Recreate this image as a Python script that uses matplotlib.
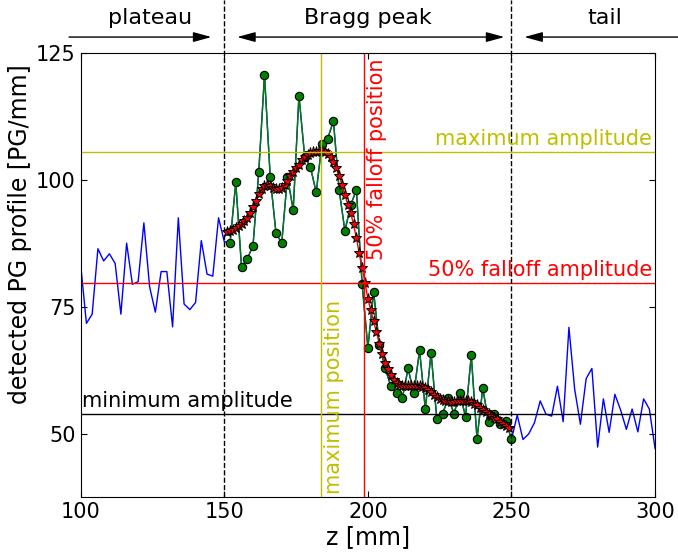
import numpy as np
import matplotlib
matplotlib.use('Agg')
import matplotlib.pyplot as plt

# measured PG profile, 2 mm bins
z = np.arange(100, 301, 2)
plateau = [83.3, 71.8, 73.6, 86.5, 84.1, 85.5, 83.6, 73.6, 87.6, 79.5,
           80.0, 91.6, 79.0, 74.0, 82.0, 82.0, 71.1, 92.6, 75.6, 74.5,
           75.9, 88.1, 81.5, 81.1, 92.6, 87.9]                      # 100..150
bragg = [87.6, 99.6, 82.9, 84.5, 87.1, 101.6, 120.8, 100.6, 89.6, 87.6,
         100.7, 94.1, 116.7, 104.6, 102.6, 97.6, 107.2, 108.2, 111.7, 98.1,
         90.0, 95.1, 98.1, 79.5, 67.0, 78.0, 67.5, 63.0, 59.4, 58.0,
         57.0, 62.9, 58.0, 66.5, 54.9, 66.0, 53.0, 54.0, 57.0, 54.0,
         58.0, 53.4, 65.5, 49.0, 59.0, 52.4, 54.0, 51.9, 52.6, 48.9]   # 152..250
tail = [53.7, 48.9, 50.0, 52.2, 56.5, 53.9, 53.5, 59.4, 52.4, 71.0,
        58.8, 51.9, 60.9, 62.9, 47.4, 56.9, 50.3, 57.8, 54.7, 50.9,
        54.9, 50.4, 56.9, 54.9, 47.1]                                # 252..300
profile = np.array(plateau + bragg + tail)

# smoothed profile, 1 mm steps
z_fit = np.arange(151, 250)
fit = [89.8, 90.0, 90.2, 90.5, 90.9, 91.3, 91.9, 92.5, 93.5, 94.7,
       96.0, 97.3, 98.3, 98.9, 99.1, 98.9, 98.5, 98.3, 98.2, 98.5,
       99.1, 99.9, 100.8, 101.7, 102.4, 103.1, 103.9, 104.6, 105.0, 105.3,
       105.5, 105.6, 105.7, 105.8, 105.5, 105.1, 104.5, 103.7, 102.5, 100.9,
       99.0, 97.1, 95.2, 93.6, 91.3, 88.6, 85.6, 82.8, 79.8, 76.6,
       74.4, 72.2, 70.0, 67.8, 65.8, 64.0, 62.7, 61.6, 60.7, 60.1,
       59.7, 59.5, 59.5, 59.5, 59.5, 59.5, 59.5, 59.5, 59.3, 59.0,
       58.6, 58.2, 57.7, 57.2, 56.9, 56.7, 56.5, 56.4, 56.3, 56.3,
       56.4, 56.5, 56.5, 56.5, 56.4, 56.2, 55.9, 55.6, 55.2, 54.8,
       54.4, 54.0, 53.6, 53.2, 52.9, 52.4, 52.0, 51.6, 51.2]

max_amp = 105.6
min_amp = 53.9
half_amp = (max_amp + min_amp) / 2
max_pos = 183.8
half_pos = 198.8

plt.rcParams['font.family'] = ['DejaVu Sans']
plt.rcParams['font.size'] = 15

fig = plt.figure(figsize=(6.78, 5.57), dpi=100)
ax = fig.add_axes([0.119, 0.1072, 0.8472, 0.7968])

ax.plot(z, profile, 'b-', lw=1)
sel = (z >= 152) & (z <= 250)
ax.plot(z[sel], profile[sel], 'g-', lw=1, marker='o', ms=6,
        mfc='g', mec='k', mew=0.8)
ax.plot(z_fit, fit, 'r-', lw=1, marker='*', ms=8, mfc='r', mec='k', mew=0.7)

ax.axhline(max_amp, color='y', lw=1)
ax.axhline(half_amp, color='r', lw=1)
ax.axhline(min_amp, color='k', lw=1)
ax.axvline(max_pos, color='y', lw=1)
ax.axvline(half_pos, color='r', lw=1)
for zz in (150, 250):
    ax.axvline(zz, ymin=0, ymax=1.12, color='k', ls='--', lw=1, clip_on=False)

ax.text(299, max_amp + 0.6, 'maximum amplitude', color='y', ha='right', va='bottom')
ax.text(299, half_amp + 0.6, '50% falloff amplitude', color='r', ha='right', va='bottom')
ax.text(100.5, min_amp + 0.6, 'minimum amplitude', color='k', ha='left', va='bottom')
ax.text(half_pos + 0.8, 124, '50% falloff position', color='r', rotation=90,
        ha='left', va='top')
ax.text(max_pos + 0.8, 38.2, 'maximum position', color='y', rotation=90,
        ha='left', va='bottom')

# region arrows above the axes
yt = 1.037
arr = '-|>,head_length=1.1,head_width=0.3'
arr2 = '<|-|>,head_length=1.1,head_width=0.3'
ax.annotate('', xy=(146.5, yt), xytext=(95, yt), xycoords=('data', 'axes fraction'),
            annotation_clip=False,
            arrowprops=dict(arrowstyle=arr, color='k', lw=1, mutation_scale=10))
ax.annotate('', xy=(248.5, yt), xytext=(153.5, yt), xycoords=('data', 'axes fraction'),
            annotation_clip=False,
            arrowprops=dict(arrowstyle=arr2, color='k', lw=1, mutation_scale=10))
ax.annotate('', xy=(253.5, yt), xytext=(309, yt), xycoords=('data', 'axes fraction'),
            annotation_clip=False,
            arrowprops=dict(arrowstyle=arr, color='k', lw=1, mutation_scale=10))
ax.text(124, 1.08, 'plateau', transform=ax.get_xaxis_transform(), ha='center', va='center', fontsize=16)
ax.text(200, 1.08, 'Bragg peak', transform=ax.get_xaxis_transform(), ha='center', va='center', fontsize=16)
ax.text(282.5, 1.08, 'tail', transform=ax.get_xaxis_transform(), ha='center', va='center', fontsize=16)

ax.set_xlim(100, 300)
ax.set_ylim(37.5, 125)
ax.set_xticks([100, 150, 200, 250, 300])
ax.set_yticks([50, 75, 100, 125])
ax.tick_params(direction='in', top=True, right=True, length=4)
ax.set_xlabel('z [mm]', fontsize=17, labelpad=2)
ax.set_ylabel('detected PG profile [PG/mm]', fontsize=17)
ax.yaxis.set_label_coords(-0.085, 0.594)

fig.savefig('out.png', dpi=100)
